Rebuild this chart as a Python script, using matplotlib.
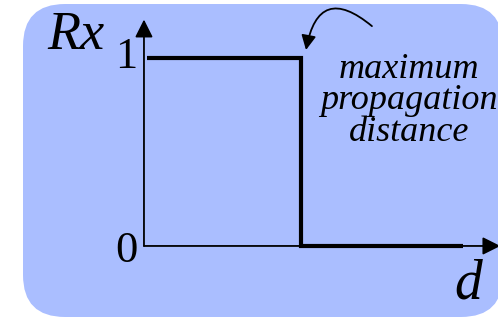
import matplotlib.pyplot as plt
from matplotlib.patches import FancyBboxPatch
from matplotlib.transforms import IdentityTransform

# step response: Rx = 1 up to the maximum propagation distance, 0 beyond
d_vals = [0.02, 1.0, 1.0, 2.03]
rx_vals = [1, 1, 0, 0]
tick_vals = [0, 1]
tick_labels = ["0", "1"]

plt.rcParams["font.family"] = "serif"
plt.rcParams["font.serif"] = ["Liberation Serif", "FreeSerif", "DejaVu Serif"]

fig = plt.figure(figsize=(4.98, 3.2), dpi=100)
fig.patch.set_facecolor("white")

# rounded light-blue panel (pixel coordinates)
panel = FancyBboxPatch((23, 3), 480, 313, boxstyle="round,pad=0,rounding_size=42",
                       transform=IdentityTransform(), facecolor="#aabeff",
                       edgecolor="none", zorder=-5)
fig.patches.append(panel)

ax = fig.add_axes([0, 0, 1, 1])
ax.set_xlim(-0.917, 2.255)
ax.set_ylim(-0.394, 1.309)
ax.axis("off")
ax.patch.set_alpha(0)

# axes with arrow heads
arrow_kw = dict(arrowstyle="-|>", color="black", lw=1.3, mutation_scale=27,
                shrinkA=0, shrinkB=0)
ax.annotate("", xy=(0, 1.205), xytext=(0, 0), arrowprops=arrow_kw,
            annotation_clip=False)
ax.annotate("", xy=(2.27, 0), xytext=(0, 0), arrowprops=arrow_kw,
            annotation_clip=False)

ax.plot(d_vals, rx_vals, color="black", lw=3.0, solid_joinstyle="miter",
        solid_capstyle="butt")

for v, lab in zip(tick_vals, tick_labels):
    ax.text(-0.04, v - 0.085 + (0.032 if v == 1 else 0), lab, ha="right",
            va="baseline", fontsize=32)

ax.text(-0.615, 1.05, "Rx", ha="left", va="baseline", fontsize=39,
        style="italic")
ax.text(2.153, -0.277, "d", ha="right", va="baseline", fontsize=40,
        style="italic")

ax.text(1.69, 0.56, "maximum\npropagation\ndistance", ha="center",
        va="baseline", multialignment="center", linespacing=0.93,
        fontsize=26, style="italic")

ax.annotate("", xy=(1.032, 1.043), xytext=(1.452, 1.170),
            arrowprops=dict(arrowstyle="-|>", color="black", lw=1.3,
                            mutation_scale=22, shrinkA=0, shrinkB=0,
                            connectionstyle="arc3,rad=0.85"),
            annotation_clip=False)

fig.savefig("out.png", dpi=100)
